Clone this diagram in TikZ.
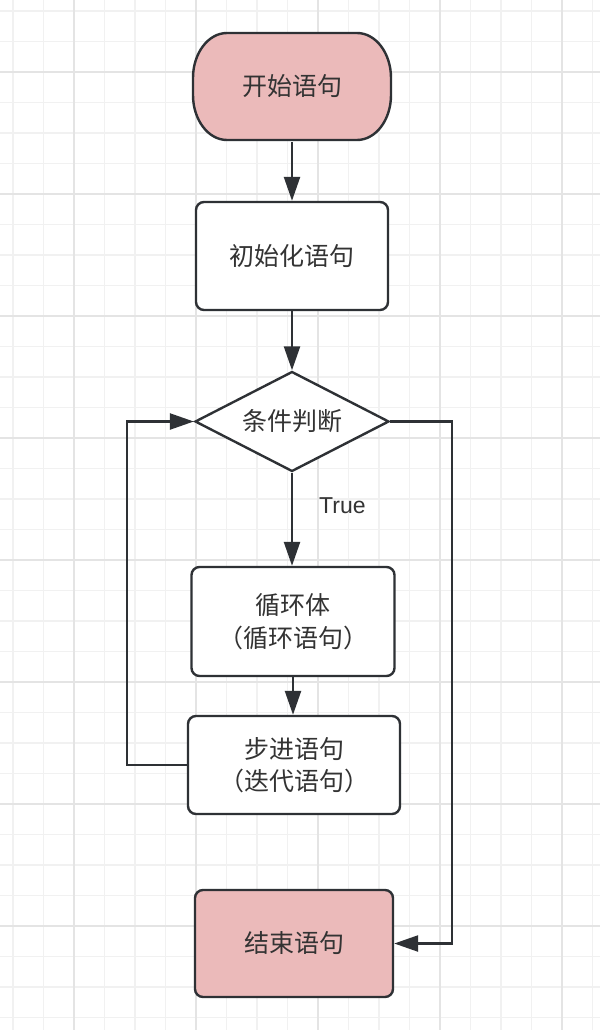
\documentclass[tikz,border=0pt]{standalone}
\usepackage{fontspec}
\newfontfamily\cjk{Noto Sans CJK SC}
\newfontfamily\latf{Liberation Sans}
\usetikzlibrary{shapes.geometric,arrows.meta}
\definecolor{gridminor}{HTML}{F1F1F1}
\definecolor{gridmajor}{HTML}{E4E4E4}
\definecolor{pinkfill}{HTML}{EBBABA}
\definecolor{strokec}{HTML}{2E3135}
\definecolor{txt}{HTML}{333333}
\tikzset{
  base/.style={draw=strokec, line width=2.4pt, text=txt, inner sep=0pt,
    font=\cjk\fontsize{25}{32.5}\selectfont, align=center},
  termshape/.style={draw=strokec, line width=2.4pt, fill=pinkfill},
  term/.style={base, draw=none, minimum width=198pt, minimum height=107pt},
  procbox/.style={base, fill=white, rounded corners=8pt},
  endbox/.style={base, fill=pinkfill, rounded corners=8pt},
  dec/.style={base, fill=white, diamond, aspect=1.94, minimum width=194pt, minimum height=100pt},
  conn/.style={draw=strokec, line width=2.4pt, -{Triangle[length=24pt,width=16pt]}},
}
\begin{document}
\begin{tikzpicture}[x=1pt,y=-1pt]
\useasboundingbox (0,0) rectangle (600,1030);
\fill[white] (0,0) rectangle (600,1030);
% grid
\foreach \k in {0,...,19}{
  \pgfmathsetmacro{\xx}{13+30.5*\k}
  \draw[gridminor, line width=1.8pt] (\xx,0) -- (\xx,1030);
}
\foreach \k in {0,...,33}{
  \pgfmathsetmacro{\yy}{11+30.5*\k}
  \draw[gridminor, line width=1.8pt] (0,\yy) -- (600,\yy);
}
\foreach \k in {2,6,10,14,18}{
  \pgfmathsetmacro{\xx}{13+30.5*\k}
  \draw[gridmajor, line width=1.8pt] (\xx,0) -- (\xx,1030);
}
\foreach \k in {2,6,10,14,18,22,26,30}{
  \pgfmathsetmacro{\yy}{11+30.5*\k}
  \draw[gridmajor, line width=1.8pt] (0,\yy) -- (600,\yy);
}
% terminator shape (elliptical corners)
\path[termshape] (227,33) -- (357,33)
  arc[start angle=-90, end angle=0, x radius=34, y radius=45] -- (391,95)
  arc[start angle=0, end angle=90, x radius=34, y radius=45] -- (227,140)
  arc[start angle=90, end angle=180, x radius=34, y radius=45] -- (193,78)
  arc[start angle=180, end angle=270, x radius=34, y radius=45] -- cycle;
% nodes
\node[term] (start) at (292,86.5) {开始语句};
\node[procbox, minimum width=192pt, minimum height=108pt] (init) at (292,256) {初始化语句};
\node[dec] (cond) at (292,421.5) {条件判断};
\node[procbox, minimum width=203pt, minimum height=109pt] (body) at (293,621.5) {循环体\\（循环语句）};
\node[procbox, minimum width=212pt, minimum height=98pt] (step) at (294,765) {步进语句\\（迭代语句）};
\node[endbox, minimum width=198pt, minimum height=107pt] (end) at (294,943.5) {结束语句};
\node[anchor=west, inner sep=0pt, text=txt, font=\latf\fontsize{23}{28}\selectfont] (tl) at (319,506) {True};
% connectors
\draw[conn] ([yshift=-1.2pt]start.south) -- (init.north);
\draw[conn] (init.south) -- (cond.north);
\draw[conn] (cond.south) -- (cond.south |- body.north);
\draw[conn] (body.south) -- (body.south |- step.north);
\draw[conn] (step.west) -- ++(-60,0) coordinate (lb) |- (cond.west);
\draw[conn] (cond.east) -- ++(62,0) coordinate (rb) |- (end.east);
\end{tikzpicture}
\end{document}
